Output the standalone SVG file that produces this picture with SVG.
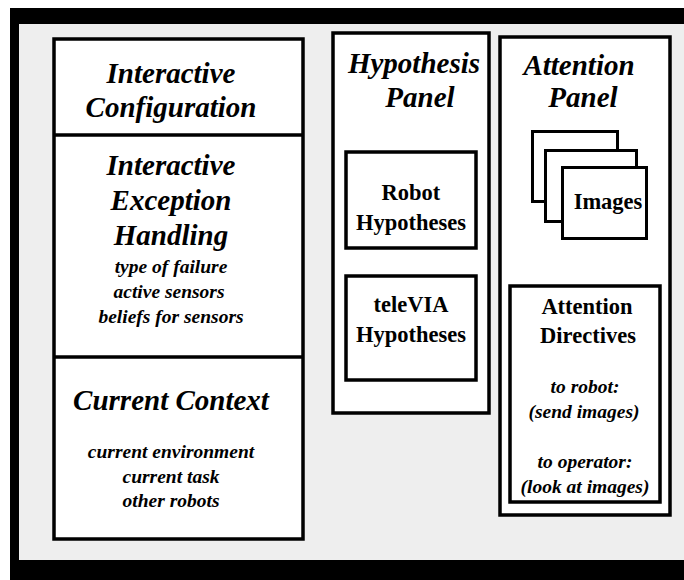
<svg xmlns="http://www.w3.org/2000/svg" width="684" height="580" viewBox="0 0 684 580">
  <style>
    .box { fill: #ffffff; stroke: #000000; stroke-width: 3.5; }
    .card { fill: #ffffff; stroke: #000000; stroke-width: 3; }
    .rule { stroke: #000000; stroke-width: 3.5; }
    text { font-family: "Liberation Serif", "Times New Roman", serif; fill: #000000; text-anchor: middle; font-weight: bold; }
    .head { font-size: 29px; font-style: italic; }
    .item { font-size: 19.5px; font-style: italic; }
    .label { font-size: 22.5px; }
  </style>

  <!-- window frame -->
  <g id="frame">
    <rect x="10" y="8" width="680" height="580" fill="#000000"/>
    <rect x="19" y="24" width="670" height="536" fill="#eeeeee"/>
  </g>

  <!-- left column: configuration / exception handling / context -->
  <g id="interactive-configuration">
    <rect class="box" x="54" y="39" width="249" height="500"/>
    <text class="head" x="171" y="83">Interactive</text>
    <text class="head" x="171" y="117">Configuration</text>
  </g>

  <g id="interactive-exception-handling">
    <line class="rule" x1="54" y1="135" x2="303" y2="135"/>
    <text class="head" x="171" y="175">Interactive</text>
    <text class="head" x="171" y="210">Exception</text>
    <text class="head" x="171" y="245">Handling</text>
    <text class="item" x="171" y="273">type of failure</text>
    <text class="item" x="169" y="298">active sensors</text>
    <text class="item" x="171" y="323">beliefs for sensors</text>
  </g>

  <g id="current-context">
    <line class="rule" x1="54" y1="357" x2="303" y2="357"/>
    <text class="head" x="171" y="410">Current Context</text>
    <text class="item" x="171" y="458">current environment</text>
    <text class="item" x="171" y="483">current task</text>
    <text class="item" x="171" y="507">other robots</text>
  </g>

  <!-- hypothesis panel -->
  <g id="hypothesis-panel">
    <rect class="box" x="333" y="33" width="156" height="380"/>
    <text class="head" x="414" y="73">Hypothesis</text>
    <text class="head" x="420" y="107">Panel</text>
  </g>

  <g id="robot-hypotheses">
    <rect class="box" x="346" y="152" width="130" height="96"/>
    <text class="label" x="411" y="200">Robot</text>
    <text class="label" x="411" y="230">Hypotheses</text>
  </g>

  <g id="televia-hypotheses">
    <rect class="box" x="346" y="276" width="130" height="104"/>
    <text class="label" x="411" y="312">teleVIA</text>
    <text class="label" x="411" y="342">Hypotheses</text>
  </g>

  <!-- attention panel -->
  <g id="attention-panel">
    <rect class="box" x="500" y="37" width="170" height="478"/>
    <text class="head" x="579" y="75">Attention</text>
    <text class="head" x="583" y="107">Panel</text>
  </g>

  <g id="images">
    <rect class="card" x="532.5" y="131.5" width="85" height="70"/>
    <rect class="card" x="545.5" y="150.5" width="91" height="71"/>
    <rect class="card" x="562.5" y="167.5" width="84" height="71"/>
    <text class="label" x="608" y="209">Images</text>
  </g>

  <g id="attention-directives">
    <rect class="box" x="510" y="286" width="150" height="216"/>
    <text class="label" x="587" y="314">Attention</text>
    <text class="label" x="588" y="343">Directives</text>
    <text class="item" x="585" y="393">to robot:</text>
    <text class="item" x="584" y="418">(send images)</text>
    <text class="item" x="585" y="468">to operator:</text>
    <text class="item" x="585" y="493">(look at images)</text>
  </g>
</svg>
